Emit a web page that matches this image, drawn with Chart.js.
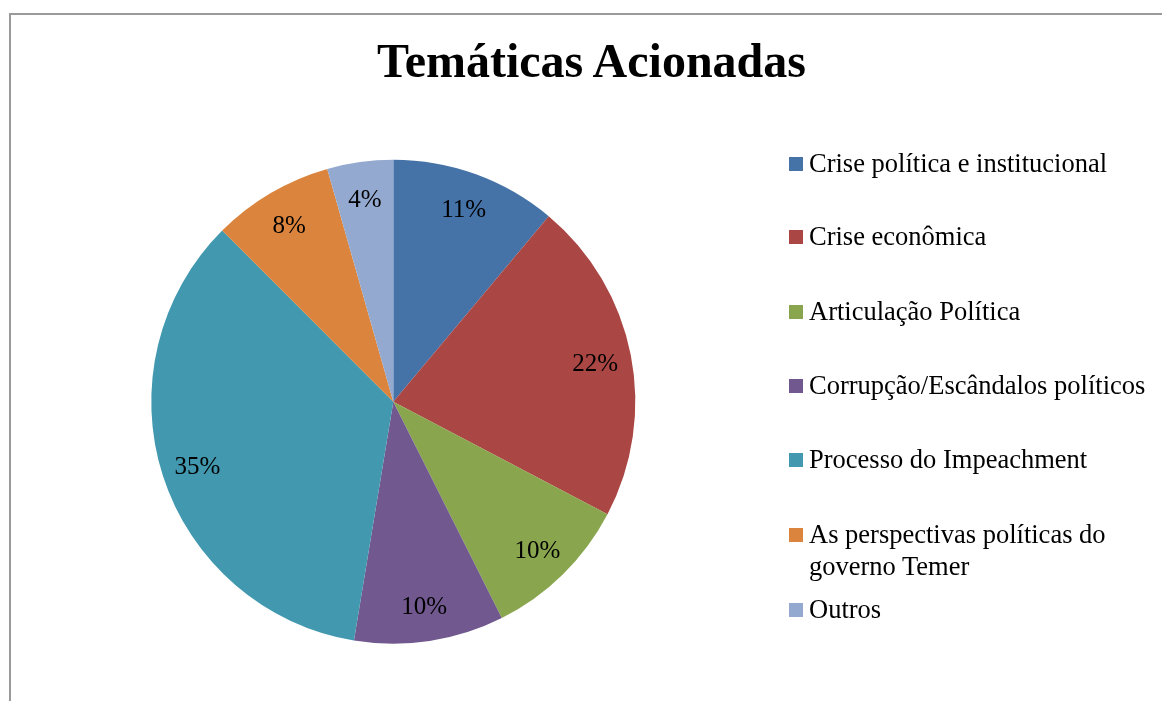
<!DOCTYPE html>
<html>
<head>
<meta charset="utf-8">
<script src="https://cdn.jsdelivr.net/npm/chart.js@4.4.0/dist/chart.umd.min.js"></script>
<style>
  html, body { margin:0; padding:0; background:#fff; overflow:hidden; }
  #wrap { position:relative; width:1162px; height:701px; overflow:hidden; }
  #frame { position:absolute; left:9px; top:13px; width:1200px; height:800px; border:2px solid #9a9a9a; box-sizing:border-box; }
  #title { position:absolute; left:0; top:37px; width:1183px; text-align:center; font-family:"Liberation Serif","Times New Roman",serif; font-weight:bold; font-size:48px; line-height:48px; color:#000; white-space:nowrap; }
  canvas { position:absolute; left:0; top:0; }
  .lg { position:absolute; left:789px; font-family:"Liberation Serif","Times New Roman",serif; font-size:26.5px; line-height:32px; color:#000; }
  .lg .sw { position:absolute; left:0; top:10px; width:14px; height:14px; }
  .lg .tx { position:absolute; left:20px; top:0; width:345px; }
</style>
</head>
<body>
<div id="wrap">
  <div id="frame"></div>
  <canvas id="c" width="1162" height="701"></canvas>
  <div id="title"></div>
  <div id="legend"></div>
</div>
<script>
const chartTitle = "Temáticas Acionadas";
const categories = [
  "Crise política e institucional",
  "Crise econômica",
  "Articulação Política",
  "Corrupção/Escândalos políticos",
  "Processo do Impeachment",
  "As perspectivas políticas do governo Temer",
  "Outros"
];
const values = [11.1, 21.6, 9.9, 10.0, 34.9, 8.1, 4.4];
const colors = ["#4572A7", "#AA4643", "#89A54E", "#71588F", "#4198AF", "#DB843D", "#93A9CF"];
const legendTops = [147, 220, 295, 369, 443, 518, 593];

document.getElementById('title').textContent = chartTitle;

const lg = document.getElementById('legend');
categories.forEach((c, i) => {
  const d = document.createElement('div');
  d.className = 'lg';
  d.style.top = legendTops[i] + 'px';
  const sw = document.createElement('div');
  sw.className = 'sw';
  sw.style.background = colors[i];
  const tx = document.createElement('div');
  tx.className = 'tx';
  tx.textContent = c;
  d.appendChild(sw); d.appendChild(tx);
  lg.appendChild(d);
});

const pctLabels = {
  id: 'pctLabels',
  afterDatasetsDraw(chart) {
    const ctx = chart.ctx;
    const meta = chart.getDatasetMeta(0);
    const data = chart.data.datasets[0].data;
    const total = data.reduce((a, b) => a + b, 0);
    ctx.save();
    ctx.font = '25px "Liberation Serif", "Times New Roman", serif';
    ctx.fillStyle = '#000';
    ctx.textAlign = 'center';
    ctx.textBaseline = 'alphabetic';
    meta.data.forEach((arc, i) => {
      const p = arc.getProps(['x', 'y', 'startAngle', 'endAngle', 'outerRadius'], true);
      const mid = (p.startAngle + p.endAngle) / 2;
      const r = p.outerRadius * 0.85;
      const x = p.x + Math.cos(mid) * r;
      const y = p.y + Math.sin(mid) * r;
      ctx.fillText(Math.round(data[i] / total * 100) + '%', x, y + 9);
    });
    ctx.restore();
  }
};

new Chart(document.getElementById('c'), {
  type: 'pie',
  data: {
    labels: categories,
    datasets: [{
      data: values,
      backgroundColor: colors,
      borderWidth: 0
    }]
  },
  options: {
    responsive: false,
    animation: false,
    devicePixelRatio: 1,
    layout: { padding: { left: 151.3, right: 526.7, top: 159.7, bottom: 57.3 } },
    plugins: {
      legend: { display: false },
      title: { display: false },
      tooltip: { enabled: false }
    }
  },
  plugins: [pctLabels]
});
</script>
</body>
</html>
